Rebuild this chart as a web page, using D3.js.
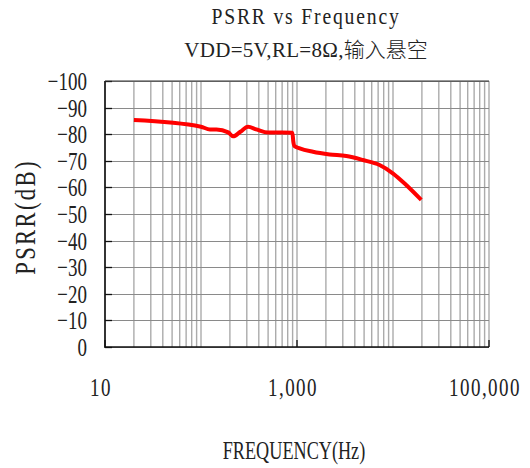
<!DOCTYPE html>
<html>
<head>
<meta charset="utf-8">
<script src="https://cdn.jsdelivr.net/npm/d3@7/dist/d3.min.js"></script>
<style>
html,body{margin:0;padding:0;background:#fff;}
svg{display:block;}
text{font-family:"Liberation Serif","DejaVu Serif",serif;fill:#222;}
</style>
</head>
<body>
<svg id="chart" width="530" height="468"></svg>
<script>
// ---- data ----
const freqHz = [20, 100, 124, 145, 192, 216, 257, 309, 378, 500, 700, 895, 915, 940, 1067, 1466, 2188, 3266, 4857, 7245, 9950, 13730, 19680];
const psrrDb = [-85.3, -82.8, -81.8, -81.8, -80.7, -79.2, -80.9, -82.8, -81.8, -80.6, -80.6, -80.5, -77.3, -75.6, -74.7, -73.4, -72.4, -71.8, -70.3, -68.4, -65.3, -60.9, -55.3];
const yTicks = [0, -10, -20, -30, -40, -50, -60, -70, -80, -90, -100];
const yTickLabels = ["0", "\u221210", "\u221220", "\u221230", "\u221240", "\u221250", "\u221260", "\u221270", "\u221280", "\u221290", "\u2212100"];
const xTicks = [10, 1000, 100000];
const xTickLabels = ["10", "1,000", "100,000"];
const titleText = "PSRR vs Frequency";
const subtitleLatin = "VDD=5V,RL=8\u03A9,";
const subtitleCJK = "输入悬空";
const xTitle = "FREQUENCY(Hz)";
const yTitle = "PSRR(dB)";

// ---- layout ----
const L = 105, R = 489, T = 81, B = 347;
const svg = d3.select("#chart");
const x = d3.scaleLog().domain([10, 100000]).range([L, R]);
const y = d3.scaleLinear().domain([0, -100]).range([B, T]);

// vertical grid (log minor lines)
const vGrid = [];
for (let d = 10; d < 100000; d *= 10) for (let k = 1; k <= 9; k++) vGrid.push(d * k);
vGrid.push(100000);
svg.append("g").selectAll("line").data(vGrid).join("line")
  .attr("x1", d => x(d)).attr("x2", d => x(d))
  .attr("y1", T).attr("y2", B)
  .attr("stroke", "#ababab").attr("stroke-width", 1.4);

// horizontal grid
svg.append("g").selectAll("line").data(yTicks).join("line")
  .attr("x1", L).attr("x2", R)
  .attr("y1", d => Math.round(y(d)) + 0.5).attr("y2", d => Math.round(y(d)) + 0.5)
  .attr("stroke", "#8a8a8a").attr("stroke-width", 1);

// y ticks (inward)
svg.append("g").selectAll("line").data(yTicks).join("line")
  .attr("x1", L).attr("x2", L + 7)
  .attr("y1", d => Math.round(y(d)) + 0.5).attr("y2", d => Math.round(y(d)) + 0.5)
  .attr("stroke", "#111").attr("stroke-width", 1.3);
// x ticks (inward)
svg.append("g").selectAll("line").data(xTicks).join("line")
  .attr("x1", d => x(d)).attr("x2", d => x(d))
  .attr("y1", B).attr("y2", B - 7)
  .attr("stroke", "#111").attr("stroke-width", 1.3);

// frame
svg.append("line").attr("x1", L).attr("x2", L).attr("y1", T).attr("y2", B + 1)
  .attr("stroke", "#111").attr("stroke-width", 1.6);
svg.append("line").attr("x1", L).attr("x2", R).attr("y1", B).attr("y2", B)
  .attr("stroke", "#111").attr("stroke-width", 1.6);
svg.append("line").attr("x1", L).attr("x2", R).attr("y1", T).attr("y2", T)
  .attr("stroke", "#333").attr("stroke-width", 1);

// curve
const line = d3.line().x(d => x(d[0])).y(d => y(d[1])).curve(d3.curveMonotoneX);
svg.append("path").datum(freqHz.map((f, i) => [f, psrrDb[i]]))
  .attr("d", line).attr("fill", "none")
  .attr("stroke", "#ff0000").attr("stroke-width", 4)
  .attr("stroke-linejoin", "round").attr("stroke-linecap", "butt");

// y tick labels
svg.append("g").selectAll("text").data(yTicks).join("text")
  .attr("transform", d => `translate(87,${y(d) + 3}) scale(0.73,1)`)
  .attr("text-anchor", "end").attr("dominant-baseline", "middle")
  .attr("font-size", 26)
  .text((d, i) => yTickLabels[i]);

// x tick labels
svg.append("g").selectAll("text").data(xTicks).join("text")
  .attr("transform", d => `translate(${x(d) - 4},396) scale(0.73,1)`)
  .attr("text-anchor", "middle")
  .attr("font-size", 26).attr("letter-spacing", 2)
  .text((d, i) => xTickLabels[i]);

// titles
svg.append("text").attr("transform", "translate(306,24) scale(0.82,1)").attr("text-anchor", "middle")
  .attr("font-size", 24).attr("letter-spacing", 2.2).text(titleText);
const sub = svg.append("text").attr("transform", "translate(306,57)").attr("text-anchor", "middle")
  .attr("font-size", 21);
sub.append("tspan").attr("letter-spacing", 0.3).text(subtitleLatin);
sub.append("tspan").attr("font-family", "'Noto Sans CJK SC'").attr("font-weight", 300).text(subtitleCJK);

svg.append("text").attr("transform", "translate(294,459) scale(0.7,1)")
  .attr("text-anchor", "middle").attr("font-size", 26).text(xTitle);

svg.append("text").attr("transform", "translate(35,217) rotate(-90) scale(0.78,1)")
  .attr("text-anchor", "middle").attr("font-size", 29).attr("letter-spacing", 3).text(yTitle);
</script>
</body>
</html>
